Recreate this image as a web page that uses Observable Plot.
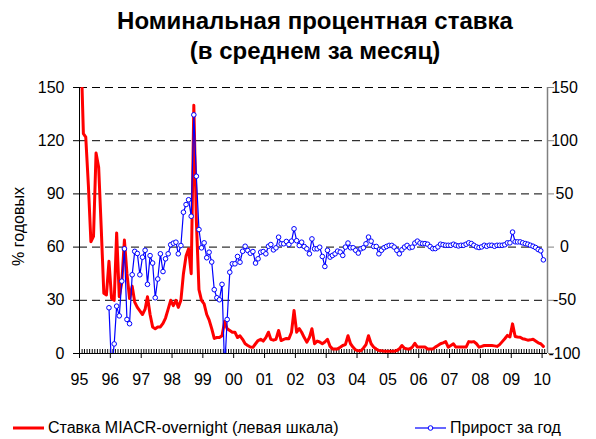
<!DOCTYPE html>
<html><head><meta charset="utf-8">
<script src="https://cdn.jsdelivr.net/npm/d3@7"></script>
<script src="https://cdn.jsdelivr.net/npm/@observablehq/plot@0.6"></script>
<style>
body{margin:0;background:#fff;font-family:Arial,"Liberation Sans",sans-serif;}
#wrap{width:596px;height:439px;overflow:hidden;}
#title{height:75px;box-sizing:border-box;padding-top:6px;padding-left:34px;text-align:center;font-weight:bold;font-size:24px;line-height:30px;color:#000;}
#legend{height:44px;position:relative;font-size:16px;color:#000;}
#legend .item{position:absolute;top:24px;display:flex;align-items:center;white-space:nowrap;}
#legend svg{margin-right:4px;}
</style>
</head><body>
<div id="wrap">
<div id="title"><div>Номинальная процентная ставка</div><div>(в среднем за месяц)</div></div>
<div id="chart"></div>
<div id="legend"></div>
</div>
<script>
// MIACR overnight rate, % per annum, monthly Jan 1995 – Jan 2010 (left scale)
const redValues = [
 175,124,122,95,63,66,113,105,70,34,33,52,
 31,30,68,32,40,64,45,31,38,29,26,24,
 22,25,32,22,15,14,15,15,17,20,25,30,
 27,30,26,30,45,55,59,45,140,75,36,30,
 28,22,19,14,8.5,9,9,10,18,14,13,12,
 12,9,10,8,5.5,4.5,3.7,3.5,5.5,7.3,8,7,
 9,12,8,7.5,8,13,7.3,8,8.5,8.3,12,24.3,
 12,14,12,9,6.4,9,14,5.5,7,6.5,5.5,6.5,
 8,4,2.6,2.6,2.6,3.5,4.5,5,10,5.5,3.5,2,
 1.5,1.5,3,5,10,5.5,3.6,2.5,1.7,1.5,1.3,1.3,
 1.3,1.3,1.3,1.7,2.6,4.5,3,2.6,2.6,3.5,5.8,3.6,
 3.6,3.6,3.6,2.6,2.6,2.6,3.6,4.5,5.5,6,6.7,3.6,
 4.5,5.5,3.6,3.6,3.6,3.6,3.6,6.7,6.5,6.7,5.5,3.6,
 4,4.5,4.5,4.5,4.5,4.3,4,5,6.7,8.3,10.2,9.3,
 16.7,9.6,9.3,9.2,8.3,8,7.5,7.7,8,7,6,5.5,
 4
];
// Year-on-year change (right scale), monthly from Dec 1995
const blueStartMonth = 11;
const blueValues = [
 -57,
 -115,-91,-55.5,-64.6,-32,-1.6,-68,-72,-26,-4,-6,-26,
 -9.5,-3,-35,-8,-15,-47.6,-30,-6.3,-23,-11,-6.3,2.2,
 3.7,4.6,-6.3,1.5,32.8,40,44.5,29,124.3,66.6,16.5,-0.7,
 4,-10,-4.8,-14,-40,-47.6,-49.5,-35,-115,-68,-23.6,-15.7,
 -15.7,-8.8,-14.2,-3.9,0.8,-3.2,-5.8,-4.2,-15,-11,-4.8,-4.2,
 -6.3,0.8,2.4,-2.6,-0.7,9.3,3.1,3.1,5.3,2.4,5.6,17.2,
 6,1.5,4.6,0.5,-1.6,-6.3,7.7,-1.6,-1.6,-0.1,-8.8,-18.2,
 -3,-9.4,-7.8,-6.3,-3.8,-4.7,-7.8,0,3.8,-0.6,-0.6,-3,
 -5.6,-1.6,-0.6,3.1,9.4,5.6,0.6,0.6,-6.3,-3,-0.6,0.6,
 1.6,1.6,0,-3,-6.3,-2.5,0,1.6,-0.6,0,3.8,5.6,
 3.8,3.3,3.3,2.7,0.5,-1.4,-1.4,0.2,2.7,2.2,1.7,1.7,
 1.7,2.7,1.7,1.1,1.7,1.7,2.7,4.0,3.3,1.7,0.2,-0.4,
 0.2,1.7,0.8,1.7,1.7,0.8,1.7,1.7,1.7,2.2,4.0,4.0,
 14.1,5,4.9,4.9,4.0,3.3,2.7,1.7,0.8,-0.4,-2.3,-3.5,
 -12
];
const yearLabels = ["95","96","97","98","99","00","01","02","03","04","05","06","07","08","09","10"];
const leftTicks = [0,30,60,90,120,150];
const rightTicks = [-100,-50,0,50,100,150];
const gridValues = [30,60,90,120,150];
const yLabel = "% годовых";
const legendLabels = ["Ставка MIACR-overnight (левая шкала)","Прирост за год"];

const monthDate = i => new Date(Date.UTC(1995, i, 16));
const red = redValues.map((v,i)=>({date: monthDate(i), value: v}));
const blue = blueValues.map((v,i)=>({date: monthDate(i+blueStartMonth), value: v}));
const toLeft = v => (v + 100) * 150 / 250;
const fromLeft = d => Math.round(d * 250 / 150 - 100);
const x0 = new Date(Date.UTC(1995,0,1));
const x1 = new Date(Date.UTC(2010,2,6));
const years = yearLabels.map((s,i)=>new Date(Date.UTC(1995+i,0,1)));
const months = d3.utcMonth.range(x0, new Date(Date.UTC(2010,2,1)));

const plot = Plot.plot({
  width: 596, height: 320,
  marginLeft: 79, marginRight: 49, marginTop: 12, marginBottom: 42,
  x: {type:"utc", domain:[x0, x1]},
  y: {domain:[0,150]},
  style: {fontFamily:"Arial, 'Liberation Sans', sans-serif", fontSize:"16px", color:"#000", background:"#fff", overflow:"visible"},
  marks: [
    Plot.ruleY(gridValues, {stroke:"#000", strokeDasharray:"8,5", strokeWidth:1}),
    Plot.ruleX(months, {x:d=>d, insetTop:262, stroke:"#000", strokeWidth:1}),
    Plot.axisX({ticks: years, tickFormat: d => yearLabels[d.getUTCFullYear()-1995], tickSize:5, tickPadding:15, label:null, stroke:"#000"}),
    Plot.axisY({anchor:"left", ticks:leftTicks, tickSize:6, tickPadding:9, label:null}),
    Plot.axisY({anchor:"right", ticks:rightTicks.map(toLeft), tickFormat: d => String(fromLeft(d)), tickSize:6, tickPadding:11, textAnchor:"middle", label:null, stroke:"#808080"}),
    Plot.text([yLabel], {text:d=>d, frameAnchor:"left", textAnchor:"middle", dx:-61, dy:6, rotate:-90, fontSize:16, fill:"#000"}),
    Plot.ruleY([0], {stroke:"#000"}),
    Plot.ruleX([x0], {stroke:"#000"}),
    Plot.ruleX([x1], {stroke:"#808080", strokeWidth:1.5}),
    Plot.lineY(red, {x:"date", y:"value", stroke:"#ff0000", strokeWidth:3, clip:true}),
    Plot.line(blue, {x:"date", y:d=>toLeft(d.value), stroke:"#0000ff", strokeWidth:1.2, clip:true}),
    Plot.dot(blue, {x:"date", y:d=>toLeft(d.value), r:2.3, stroke:"#0000ff", fill:"#fff", strokeWidth:1, clip:true})
  ]
});
document.getElementById("chart").appendChild(plot);

const lg = document.getElementById("legend");
lg.innerHTML =
 `<div class="item" style="left:13px"><svg width="31" height="10"><line x1="0" y1="5" x2="31" y2="5" stroke="#ff0000" stroke-width="3"/></svg>${legendLabels[0]}</div>` +
 `<div class="item" style="left:415px"><svg width="31" height="10"><line x1="0" y1="5" x2="31" y2="5" stroke="#0000ff" stroke-width="1.2"/><circle cx="15.5" cy="5" r="2.3" fill="#fff" stroke="#0000ff"/></svg>${legendLabels[1]}</div>`;
</script>
</body></html>
